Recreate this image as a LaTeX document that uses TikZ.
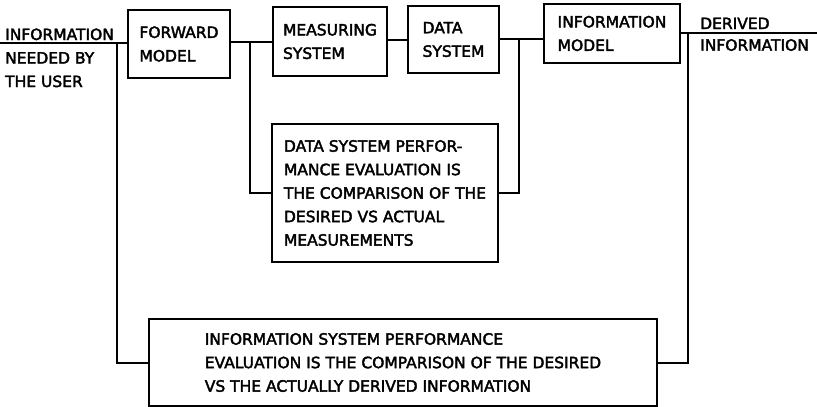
\documentclass[tikz,border=0pt]{standalone}
\usepackage{fontspec}
\setmainfont{DejaVu Sans}[FakeBold=2.5]
\usepackage{tikz}

\begin{document}
\begin{tikzpicture}[x=1pt,y=-1pt,
    blk/.style={draw, line width=2pt, align=left, inner sep=0pt},
    lbl/.style={inner sep=0pt, align=left},
    wire/.style={line width=2pt},
    font=\fontsize{15.5}{23.5}\selectfont]
      \useasboundingbox (0,0) rectangle (817,407);

      % chain of blocks
      \node (fwd) at (179,44) [blk, minimum width=102pt, minimum height=68pt] {FORWARD\\MODEL};
      \node (meas) at (330,41.5) [blk, minimum width=114pt, minimum height=69pt] {MEASURING\\SYSTEM};
      \node (dsys) at (453.5,39.5) [blk, minimum width=91pt, minimum height=67pt] {DATA\\SYSTEM};
      \node (imod) at (612,33.5) [blk, minimum width=136pt, minimum height=59pt] {INFORMATION\\MODEL};

      % evaluation boxes
      \node (dperf) at (385,193) [blk, minimum width=226pt, minimum height=138pt]
        {DATA SYSTEM PERFOR-\\MANCE EVALUATION IS\\THE COMPARISON OF THE\\DESIRED VS ACTUAL\\MEASUREMENTS};
      \node (iperf) at (403,362.5) [blk, minimum width=508pt, minimum height=87pt]
        {INFORMATION SYSTEM PERFORMANCE\\EVALUATION IS THE COMPARISON OF THE DESIRED\\VS THE ACTUALLY DERIVED INFORMATION};

      % ends of the line and tap points
      \coordinate (in) at (0,43);
      \coordinate (j1) at (117,43);
      \coordinate (j2) at (250,42);
      \coordinate (j3) at (519,39);
      \coordinate (j4) at (688,33);
      \coordinate (out) at (817,33);

      \node (need) at (5,40) [lbl, anchor=base west] {INFORMATION};
      \node (user) at (5,52) [lbl, anchor=north west] {NEEDED BY\\THE USER};
      \node (der) at (700,29) [lbl, anchor=base west] {DERIVED};
      \node (derinfo) at (700,39) [lbl, anchor=north west] {INFORMATION};

      \draw[wire]
      (in) to (in -| fwd.west)
      (fwd.east |- j2) to (j2 -| meas.west)
      (meas.east |- dsys.west) to (dsys.west)
      (dsys.east |- j3) to (j3 -| imod.west)
      (imod.east |- out) to (out);

      % feedback to the evaluations
      \draw[wire] (j1) |- (iperf.west);
      \draw[wire] (j2) |- (dperf.west);
      \draw[wire] (j3) |- (dperf.east);
      \draw[wire] (j4) |- (iperf.east);

    \end{tikzpicture}
\end{document}
